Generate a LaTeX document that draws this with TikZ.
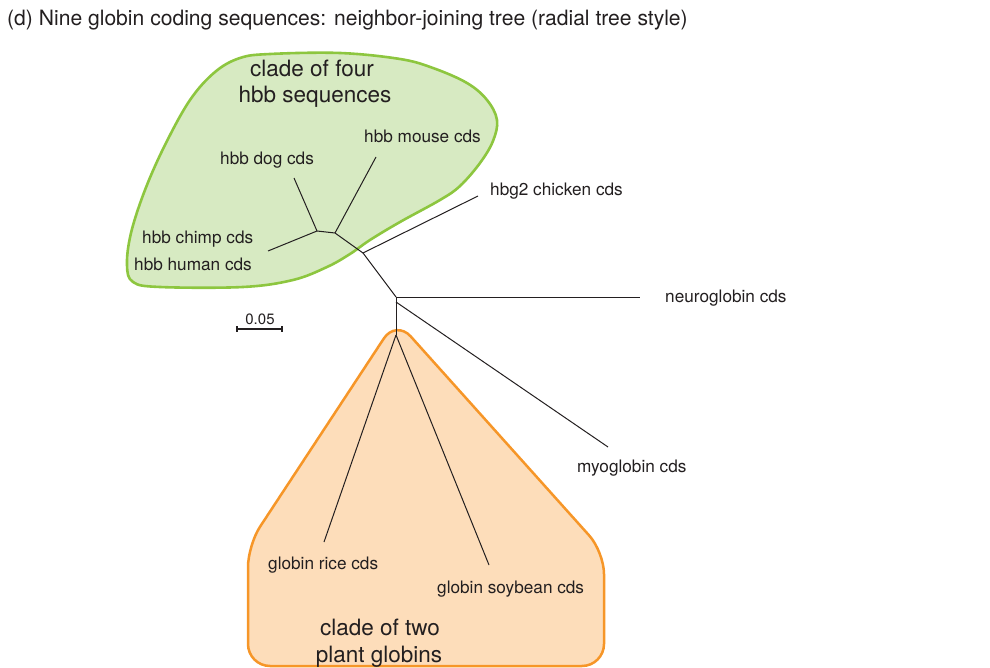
\documentclass[tikz,border=0pt]{standalone}
\usepackage{fontspec}
\setmainfont{TeX Gyre Heros}
\definecolor{gfill}{RGB}{215,234,194}
\definecolor{gline}{RGB}{141,198,63}
\definecolor{ofill}{RGB}{253,221,186}
\definecolor{oline}{RGB}{246,150,40}
\definecolor{txt}{RGB}{35,31,32}
\begin{document}
\begin{tikzpicture}[x=1pt,y=-1pt,
  lbl/.style={anchor=base west, inner sep=0pt, font=\fontsize{17.2}{20}\selectfont, text=txt},
  cladelbl/.style={anchor=base, inner sep=0pt, font=\fontsize{22.5}{26}\selectfont, text=txt},
  br/.style={line width=1pt, draw=txt},
  greenclade/.style={draw=gline, line width=2.6pt, fill=gfill},
  orangeclade/.style={draw=oline, line width=2.5pt, fill=ofill, rounded corners=22pt}]
\useasboundingbox (0,0) rectangle (990,668);
% title
\node[anchor=base west, inner sep=0pt, font=\fontsize{21.1}{24}\selectfont, text=txt] (title) at (7,26) {(d) Nine globin coding sequences: neighbor-joining tree (radial tree style)};
% clade backgrounds
\draw[greenclade] plot[smooth cycle, tension=0.6] coordinates {(270,54) (340,53) (400,59) (433,68) (467,83) (487,100) (497,120) (493,141) (480,163) (460,186) (440,200) (400,222) (370,240) (350,254) (327,267) (293,280) (243,287) (160,287) (133,282) (127,265) (131,233) (145,190) (165,145) (190,100) (215,72) (240,58)};
\draw[orangeclade] (426,666) -- (248,666) -- (248,545) -- (396,320) -- (604,552) -- (604,666) -- cycle;
% tree coordinates
\coordinate (dog) at (294,178);
\coordinate (A) at (317,231);
\coordinate (chimp) at (268,251);
\coordinate (B) at (335,233);
\coordinate (mouse) at (376,157);
\coordinate (C) at (363,253);
\coordinate (chick) at (478,196);
\coordinate (D) at (396,297);
\coordinate (neuro) at (640,297);
\coordinate (E) at (396,302);
\coordinate (myo) at (608,447);
\coordinate (F) at (396,335);
\coordinate (rice) at (324,542);
\coordinate (soy) at (489,565);
% branches
\draw[br] (dog) -- (A);
\draw[br] (chimp) -- (A);
\draw[br] (A) -- (B);
\draw[br] (B) -- (mouse);
\draw[br] (B) -- (C);
\draw[br] (C) -- (chick);
\draw[br] (C) -- (D);
\draw[br] (D) -- (neuro);
\draw[br] (D) -- (E);
\draw[br] (E) -- (myo);
\draw[br] (E) -- (F);
\draw[br] (F) -- (rice);
\draw[br] (F) -- (soy);
% labels
\node[lbl] (lmouse) at (364,143) {hbb mouse cds};
\node[lbl] (ldog) at (220,165) {hbb dog cds};
\node[lbl] (lchimp) at (142,244) {hbb chimp cds};
\node[lbl] (lhuman) at (134,270) {hbb human cds};
\node[lbl] (lchick) at (490,196) {hbg2 chicken cds};
\node[lbl] (lneuro) at (665,302) {neuroglobin cds};
\node[lbl] (lmyo) at (577,472) {myoglobin cds};
\node[lbl] (lrice) at (268,569) {globin rice cds};
\node[lbl] (lsoy) at (437,593) {globin soybean cds};
\node[cladelbl] (c4a) at (312,77) {clade of four};
\node[cladelbl] (c4b) at (315,103) {hbb sequences};
\node[cladelbl] (c2a) at (380,635) {clade of two};
\node[cladelbl] (c2b) at (379,662) {plant globins};
% scale bar
\coordinate (s1) at (237,329);
\coordinate (s2) at (282,329);
\draw[line width=1.8pt, draw=txt] (s1) -- (s2);
\draw[line width=1.2pt, draw=txt] ([yshift=3pt]s1) -- ([yshift=-3pt]s1);
\draw[line width=1.2pt, draw=txt] ([yshift=3pt]s2) -- ([yshift=-3pt]s2);
\node[anchor=base, inner sep=0pt, font=\fontsize{15}{18}\selectfont, text=txt] (sl) at (260,324) {0.05};
\end{tikzpicture}
\end{document}
